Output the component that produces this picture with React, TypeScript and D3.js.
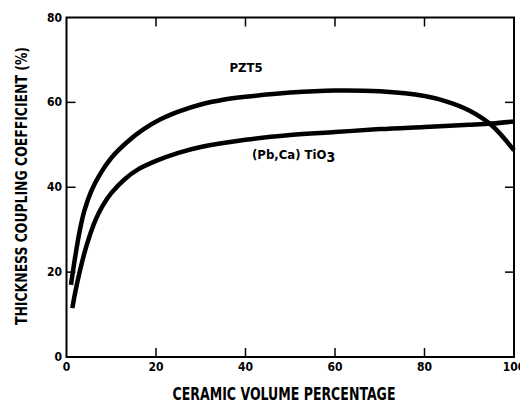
import { useEffect, useRef } from "react";
import * as d3 from "d3";

// readings (x = ceramic volume %, y = coupling %)
const pzt5X = [1, 2, 3, 4, 5.5, 7.5, 10, 13.5, 17, 21, 25, 30, 35, 40, 50, 60, 70, 80, 85, 90, 95, 100];
const pzt5Y = [17, 24, 30, 34.5, 39, 43.1, 46.9, 50.6, 53.5, 56, 57.8, 59.5, 60.6, 61.3, 62.3, 62.8, 62.6, 61.5, 60.2, 58.1, 54.6, 48.7];

const pbcaX = [1.3, 2, 3, 4, 5, 6.5, 8, 10, 13, 16, 20, 25, 30, 40, 50, 60, 70, 80, 90, 95, 100];
const pbcaY = [11.5, 15.5, 20.3, 24.5, 28, 32.3, 35.5, 38.6, 41.9, 44.2, 46.2, 48.1, 49.5, 51.2, 52.3, 53, 53.7, 54.2, 54.7, 55, 55.5];

const xTicks = [0, 20, 40, 60, 80, 100];
const yTicks = [0, 20, 40, 60, 80];

const FONT = "'Liberation Sans Narrow', 'DejaVu Sans Condensed', 'Roboto Condensed', 'Liberation Sans', sans-serif";

export default function App() {
  const ref = useRef<SVGSVGElement>(null);

  useEffect(() => {
    const svg = d3.select(ref.current);
    svg.selectAll("*").remove();

    const left = 66.5;
    const right = 514;
    const top = 17.5;
    const bottom = 357;

    const x = d3.scaleLinear().domain([0, 100]).range([left, right]);
    const y = d3.scaleLinear().domain([0, 80]).range([bottom, top]);

    // frame
    svg
      .append("rect")
      .attr("x", left)
      .attr("y", top)
      .attr("width", right - left)
      .attr("height", bottom - top)
      .attr("fill", "none")
      .attr("stroke", "#000")
      .attr("stroke-width", 2);

    // inward ticks on all four sides
    const tickLen = 9;
    const g = svg.append("g").attr("stroke", "#000").attr("stroke-width", 1.5);
    xTicks.slice(1, -1).forEach((t) => {
      g.append("line").attr("x1", x(t)).attr("x2", x(t)).attr("y1", bottom).attr("y2", bottom - tickLen);
      g.append("line").attr("x1", x(t)).attr("x2", x(t)).attr("y1", top).attr("y2", top + tickLen);
    });
    yTicks.slice(1, -1).forEach((t) => {
      g.append("line").attr("x1", left).attr("x2", left + tickLen).attr("y1", y(t)).attr("y2", y(t));
      g.append("line").attr("x1", right).attr("x2", right - tickLen).attr("y1", y(t)).attr("y2", y(t));
    });

    // tick labels
    svg
      .append("g")
      .selectAll("text")
      .data(xTicks)
      .enter()
      .append("text")
      .attr("x", (d) => x(d))
      .attr("y", 371)
      .attr("text-anchor", "middle")
      .style("font-family", FONT)
      .style("font-weight", "bold")
      .style("font-size", "12px")
      .text((d) => d);

    svg
      .append("g")
      .selectAll("text")
      .data(yTicks)
      .enter()
      .append("text")
      .attr("x", 62)
      .attr("y", (d) => y(d) + 4)
      .attr("text-anchor", "end")
      .style("font-family", FONT)
      .style("font-weight", "bold")
      .style("font-size", "12px")
      .text((d) => d);

    // curves
    const line = d3
      .line<[number, number]>()
      .x((d) => x(d[0]))
      .y((d) => y(d[1]))
      .curve(d3.curveCatmullRom.alpha(0.5));

    const series = [
      pzt5X.map((v, i) => [v, pzt5Y[i]] as [number, number]),
      pbcaX.map((v, i) => [v, pbcaY[i]] as [number, number]),
    ];
    svg
      .append("g")
      .selectAll("path")
      .data(series)
      .enter()
      .append("path")
      .attr("d", (d) => line(d))
      .attr("fill", "none")
      .attr("stroke", "#000")
      .attr("stroke-width", 4.5)
      .attr("stroke-linecap", "butt");

    // curve labels
    svg
      .append("text")
      .attr("x", 246)
      .attr("y", 72)
      .attr("text-anchor", "middle")
      .style("font-family", FONT)
      .style("font-weight", "bold")
      .style("font-size", "13px")
      .text("PZT5");

    const lab = svg
      .append("text")
      .attr("x", 252)
      .attr("y", 159)
      .style("font-family", FONT)
      .style("font-weight", "bold")
      .style("font-size", "13px");
    lab.append("tspan").text("(Pb,Ca)  TiO");
    lab.append("tspan").attr("dy", 3).style("font-size", "14px").text("3");

    // axis titles
    svg
      .append("text")
      .attr("x", 284)
      .attr("y", 400)
      .attr("text-anchor", "middle")
      .attr("textLength", 223)
      .attr("lengthAdjust", "spacingAndGlyphs")
      .style("font-family", FONT)
      .style("font-weight", "bold")
      .style("font-size", "17px")
      .text("CERAMIC VOLUME PERCENTAGE");

    svg
      .append("text")
      .attr("transform", "translate(27,186) rotate(-90)")
      .attr("text-anchor", "middle")
      .attr("textLength", 278)
      .attr("lengthAdjust", "spacingAndGlyphs")
      .style("font-family", FONT)
      .style("font-weight", "bold")
      .style("font-size", "16px")
      .text("THICKNESS COUPLING COEFFICIENT (%)");
  }, []);

  return (
    <svg
      ref={ref}
      width={520}
      height={408}
      style={{ position: "absolute", left: 0, top: 0, background: "#fff" }}
    />
  );
}
